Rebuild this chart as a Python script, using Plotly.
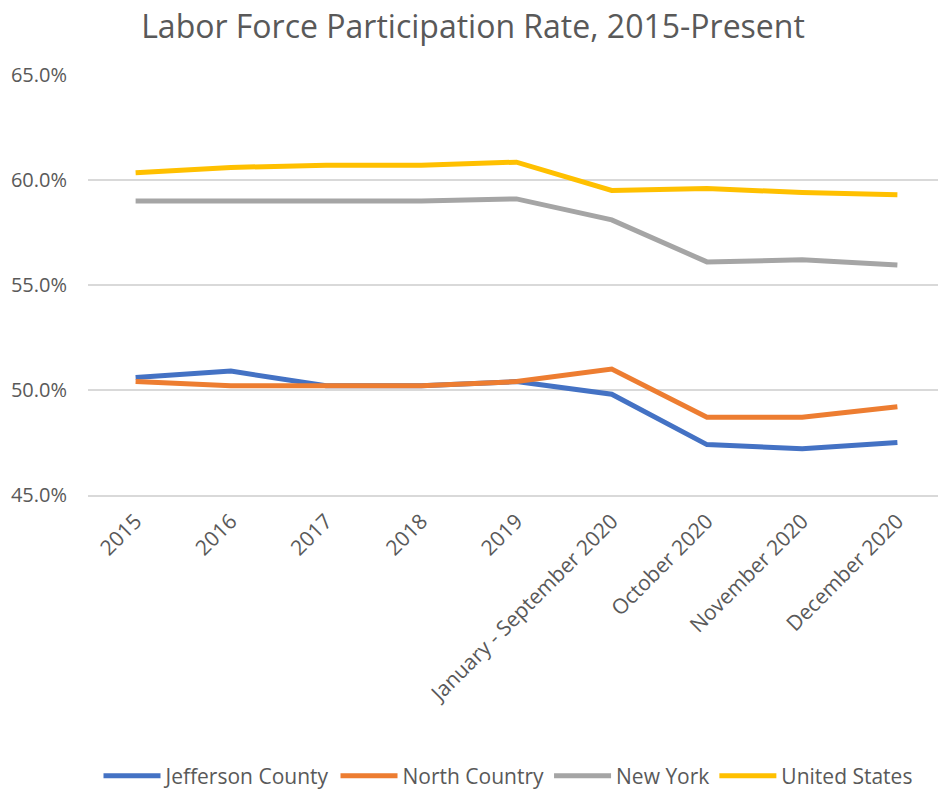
import plotly.graph_objects as go

categories = ["2015", "2016", "2017", "2018", "2019", "January - September 2020",
              "October 2020", "November 2020", "December 2020"]
jefferson = [50.6, 50.9, 50.2, 50.2, 50.4, 49.8, 47.4, 47.2, 47.5]
north_country = [50.4, 50.2, 50.2, 50.2, 50.4, 51.0, 48.7, 48.7, 49.2]
new_york = [59.0, 59.0, 59.0, 59.0, 59.1, 58.1, 56.1, 56.2, 55.95]
united_states = [60.35, 60.6, 60.7, 60.7, 60.85, 59.5, 59.6, 59.4, 59.3]

series = [
    ("Jefferson County", jefferson, "#4472C4"),
    ("North Country", north_country, "#ED7D31"),
    ("New York", new_york, "#A5A5A5"),
    ("United States", united_states, "#FFC000"),
]

# The page body has an 8px margin, so the figure is sized to the visible area
W, H = 938, 782
font_family = "Open Sans, Noto Sans, sans-serif"
fig = go.Figure()
for name, vals, color in series:
    fig.add_trace(go.Scatter(x=categories, y=vals, name=name, mode="lines",
                             line=dict(color=color, width=5)))

fig.update_layout(
    width=W, height=H,
    paper_bgcolor="white", plot_bgcolor="white",
    margin=dict(l=80, r=1, t=67, b=295),
    font=dict(family=font_family, color="#595959", size=21),
    title=dict(text="Labor Force Participation Rate, 2015-Present",
               x=465 / W, xref="container", xanchor="center",
               y=1 - 19 / H, yref="container", yanchor="middle",
               font=dict(size=32, color="#595959", family=font_family)),
    legend=dict(orientation="h", x=500 / W, xref="container", xanchor="center",
                y=14 / H, yref="container", yanchor="middle",
                font=dict(size=21, color="#595959"),
                itemwidth=57, traceorder="normal"),
    showlegend=True,
)
fig.update_xaxes(type="category", range=[-0.5, 8.5], tickangle=-45,
                 showgrid=False, automargin=False,
                 showline=True, linecolor="#D9D9D9", linewidth=1.5,
                 ticks="", ticklabelstandoff=4,
                 tickfont=dict(size=21, color="#595959"))
fig.update_yaxes(range=[45, 65], dtick=5, tickformat=".1f", ticksuffix="%",
                 showgrid=True, gridcolor="#D9D9D9", gridwidth=1.5, automargin=False,
                 zeroline=False, showline=False, ticks="",
                 ticklabelstandoff=20,
                 tickfont=dict(size=20, color="#595959"))

fig.write_html("out.html")
